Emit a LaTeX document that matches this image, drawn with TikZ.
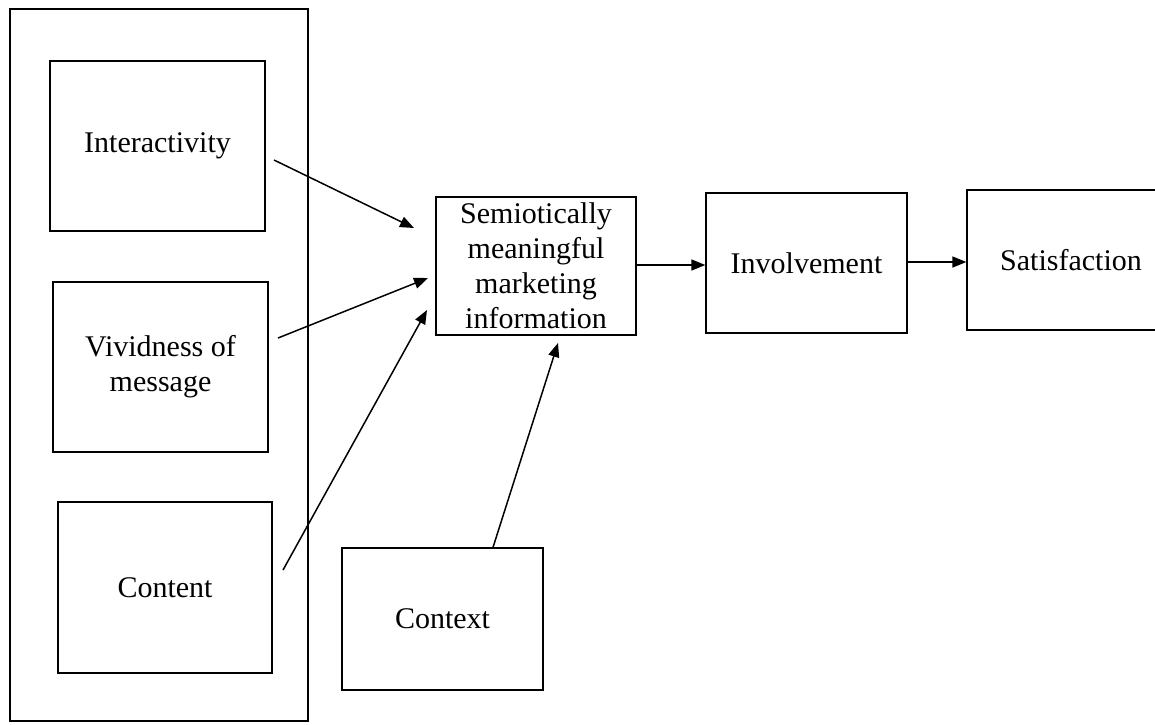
\documentclass[tikz,border=0pt]{standalone}
\usepackage{fontspec}
\setmainfont{Liberation Serif}
\usetikzlibrary{arrows.meta}
\tikzset{
  box/.style={draw, line width=1.3pt, inner sep=0pt, align=center,
    font=\fontsize{30}{35}\selectfont},
  arr/.style={line width=1.5pt, -{Triangle[length=14pt,width=11pt]}}
}
\begin{document}
\begin{tikzpicture}[x=1pt, y=-1pt]
    \useasboundingbox (0,0) rectangle (1155,724);
    \clip (0,0) rectangle (1155,724);
    \draw[line width=1.3pt] (10,9) rectangle (308,721);% outer frame
    \node[box, minimum width=215pt, minimum height=170pt] (inter) at (157.5,146) {Interactivity};
    \node[box, minimum width=215pt, minimum height=170pt] (vivid) at (160.5,367) {Vividness of\\message};
    \node[box, minimum width=214pt, minimum height=171pt] (content) at (165,587.5) {Content};
    \node[box, minimum width=200pt, minimum height=138pt] (semi) at (536,266) {Semiotically\\meaningful\\marketing\\information};
    \node[box, minimum width=201pt, minimum height=142pt] (context) at (442.5,619) {Context};
    \node[box, minimum width=201pt, minimum height=140pt] (involve) at (806.5,263) {Involvement};
    \node[box, minimum width=208pt, minimum height=140pt] (satis) at (1071,260) {Satisfaction};
    % free arrow ends
    \coordinate (inter-out) at (274,160);
    \coordinate (vivid-out) at (278,338);
    \coordinate (content-out) at (283,570);
    \coordinate (semi-in1) at (414,228);
    \coordinate (semi-in2) at (428,278);
    \coordinate (semi-in3) at (427,310);
    \coordinate (semi-in4) at (558,343);
    \draw[arr] (inter-out) -- (semi-in1);
    \draw[arr] (vivid-out) -- (semi-in2);
    \draw[arr] (content-out) -- (semi-in3);
    \draw[arr] ([xshift=50.5pt]context.north) -- (semi-in4);
    \draw[arr] (semi.east |- 0,265) -- (involve.west |- 0,265);
    \draw[arr] (involve.east |- 0,262) -- (satis.west |- 0,262);
\end{tikzpicture}
\end{document}
